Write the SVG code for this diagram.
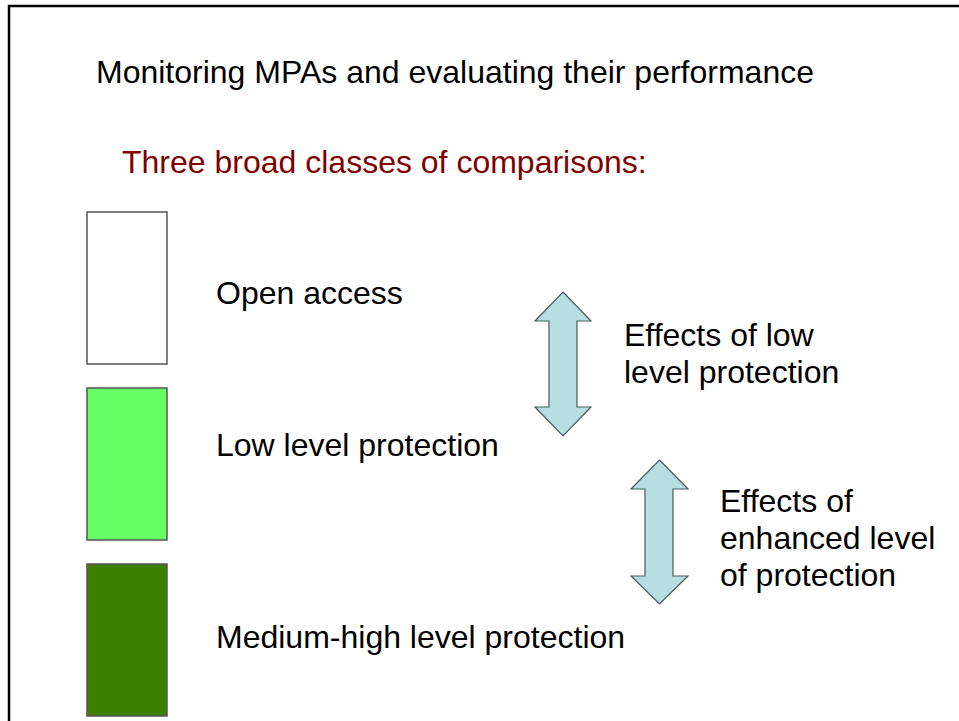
<svg xmlns="http://www.w3.org/2000/svg" width="959" height="721" viewBox="0 0 959 721">
<style>
text{font-family:"Liberation Sans",Arial,sans-serif;font-size:32px;fill:#000}
.red{fill:#800000}
.box{stroke:#555;stroke-width:1.5}
.arrow{fill:#B7DEE0;stroke:#4a5a5a;stroke-width:1.2}
</style>
<rect x="0" y="0" width="959" height="721" fill="#fff"/>
<path d="M9,721 V6 H959" fill="none" stroke="#000" stroke-width="2.5"/>
<g id="title"><text x="96" y="83">Monitoring MPAs and evaluating their performance</text></g>
<g id="subtitle"><text class="red" x="122" y="173">Three broad classes of comparisons:</text></g>
<g id="open-access">
<rect class="box" x="87" y="212" width="80" height="152" fill="#fff"/>
<text x="216" y="304">Open access</text>
</g>
<g id="low-level">
<rect class="box" x="87" y="388" width="80" height="152" fill="#66FF66"/>
<text x="216" y="456">Low level protection</text>
</g>
<g id="medium-high">
<rect class="box" x="87" y="564" width="80" height="152" fill="#3F7F00"/>
<text x="216" y="648">Medium-high level protection</text>
</g>
<g id="connectors">
<polygon class="arrow" points="563,292 591,321 577,321 577,407 591,407 563,436 535,407 549,407 549,321 535,321"/>
<polygon class="arrow" points="659.5,460 688,489 673,489 673,576 688,576 659.5,604 631,576 645,576 645,489 631,489"/>
</g>
<g id="label-low"><text x="624" y="346">Effects of low</text><text x="624" y="383">level protection</text></g>
<g id="label-enhanced"><text x="720" y="512">Effects of</text><text x="720" y="549">enhanced level</text><text x="720" y="586">of protection</text></g>
</svg>
